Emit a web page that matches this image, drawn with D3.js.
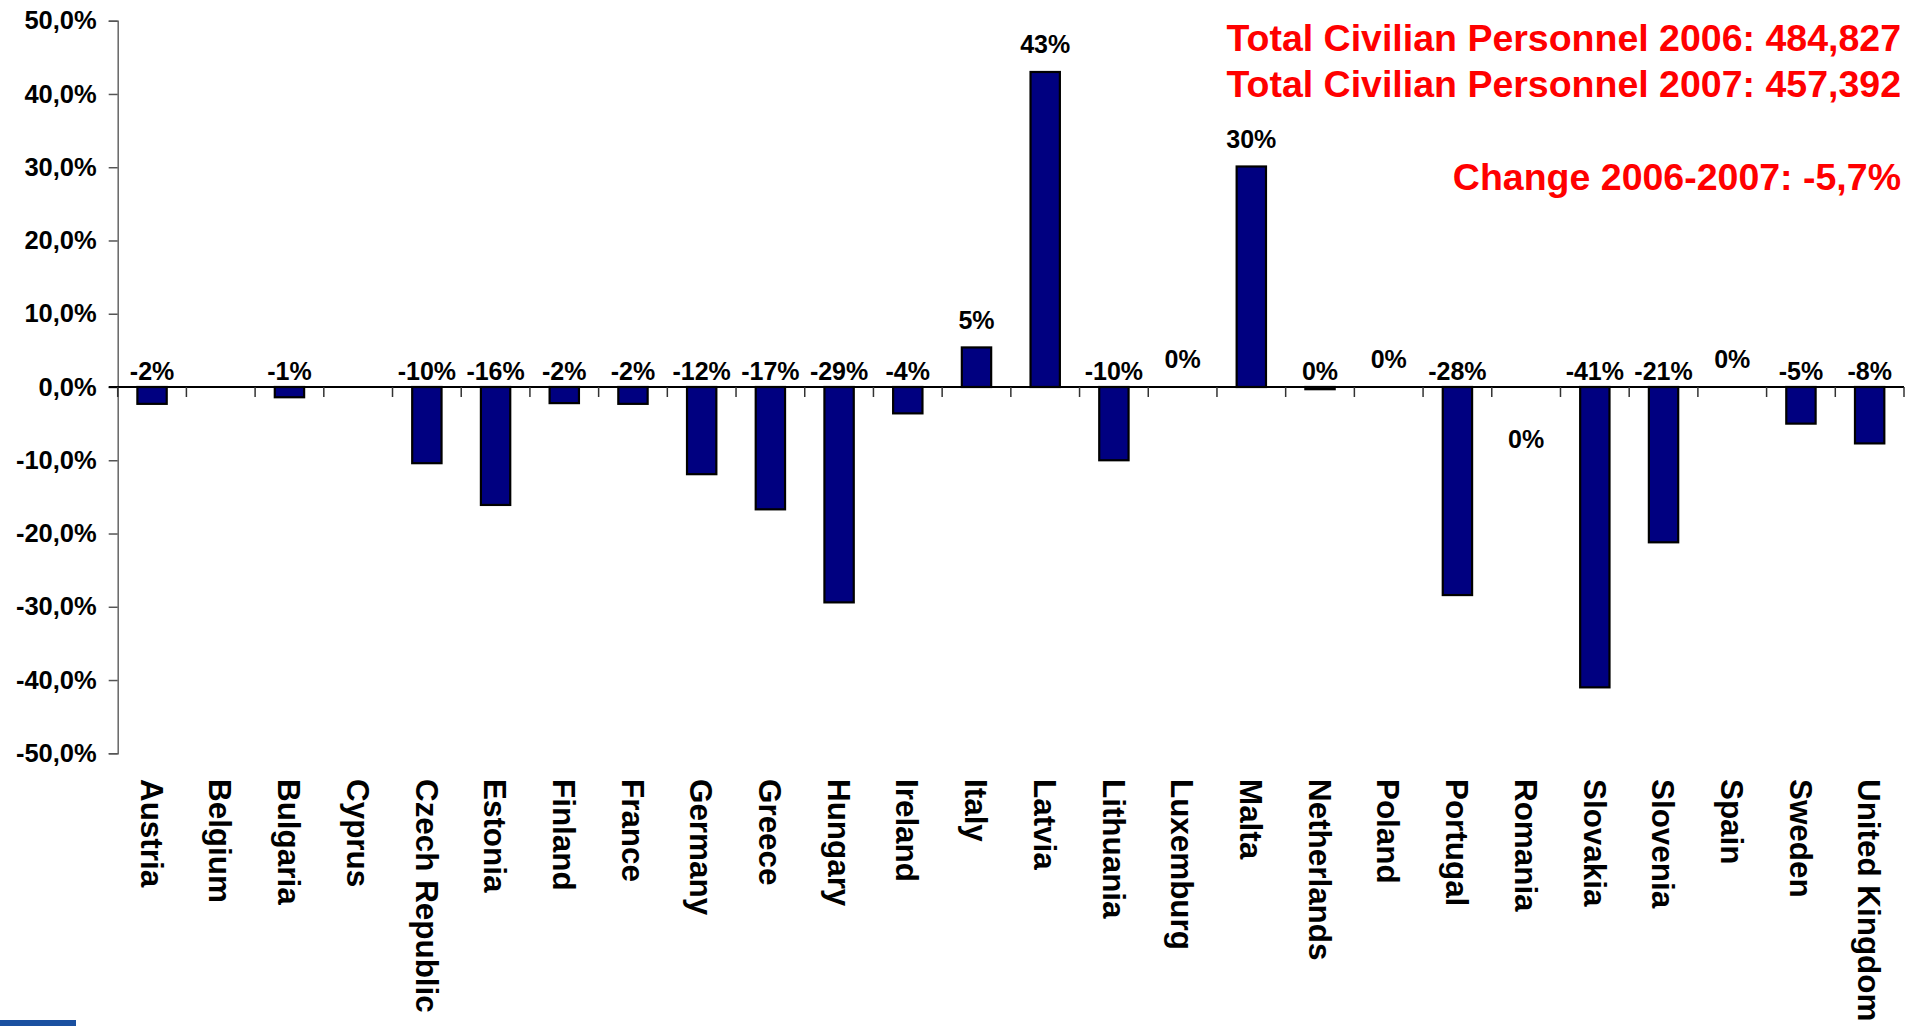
<!DOCTYPE html>
<html>
<head>
<meta charset="utf-8">
<script src="https://cdn.jsdelivr.net/npm/d3@7"></script>
<style>
  html, body { margin: 0; padding: 0; background: #fff; }
  svg { display: block; }
  text { font-family: "Liberation Sans", Arial, sans-serif; font-weight: bold; }
</style>
</head>
<body>
<svg id="chart" width="1921" height="1026"></svg>
<script>
// ---- data ----
const categories = ["Austria", "Belgium", "Bulgaria", "Cyprus", "Czech Republic", "Estonia", "Finland",
  "France", "Germany", "Greece", "Hungary", "Ireland", "Italy", "Latvia", "Lithuania", "Luxemburg",
  "Malta", "Netherlands", "Poland", "Portugal", "Romania", "Slovakia", "Slovenia", "Spain", "Sweden",
  "United Kingdom"];
// change 2006-2007 in %, null = no data
const changePct = [-2.3, null, -1.4, null, -10.4, -16.1, -2.2, -2.3, -11.9, -16.7, -29.4, -3.6, 5.4,
  43.0, -10.0, 0, 30.1, -0.3, 0, -28.4, 0, -41.0, -21.2, 0, -5.0, -7.7];
const yTicks = [-50, -40, -30, -20, -10, 0, 10, 20, 30, 40, 50];
const infoLines = ["Total Civilian Personnel 2006: 484,827",
                   "Total Civilian Personnel 2007: 457,392",
                   "Change 2006-2007: -5,7%"];

// ---- drawing ----
const svg = d3.select("#chart");
const plot = { left: 117.7, right: 1904, top: 20.7, bottom: 753.3 };

const x = d3.scaleBand().domain(categories).range([plot.left, plot.right]).padding(0);
const y = d3.scaleLinear().domain([-50, 50]).range([plot.bottom, plot.top]);
const barW = x.bandwidth() * 0.427;

// y axis
const yAxis = d3.axisLeft(y)
  .tickValues(yTicks)
  .tickSize(9)
  .tickPadding(12)
  .tickFormat(d => d.toFixed(1).replace(".", ",") + "%");
const gy = svg.append("g").attr("transform", `translate(${plot.left},0)`).call(yAxis);
gy.select(".domain").attr("stroke", "#666").attr("stroke-width", 1.5);
gy.selectAll(".tick line").attr("stroke", "#555").attr("stroke-width", 1.5);
gy.selectAll(".tick text").attr("fill", "#000").style("font-size", "25.5px")
  .style("font-family", '"Liberation Sans", Arial, sans-serif').style("font-weight", "bold");

// bars
const data = categories.map((c, i) => ({ c, v: changePct[i] }));
svg.append("g").selectAll("rect")
  .data(data.filter(d => d.v !== null && d.v !== 0))
  .join("rect")
  .attr("x", d => x(d.c) + (x.bandwidth() - barW) / 2)
  .attr("width", barW)
  .attr("y", d => Math.min(y(d.v), y(0)))
  .attr("height", d => Math.max(Math.abs(y(d.v) - y(0)), 1.5))
  .attr("fill", "#000080")
  .attr("stroke", "#000")
  .attr("stroke-width", 2.2);

// x axis line and boundary ticks
const y0 = y(0);
const gx = svg.append("g");
gx.append("line").attr("x1", plot.left - 9).attr("x2", plot.right)
  .attr("y1", y0).attr("y2", y0).attr("stroke", "#000").attr("stroke-width", 1.8);
const bounds = categories.map(c => x(c)).concat([x.range()[1]]);
gx.selectAll("line.tk").data(bounds).join("line").attr("class", "tk")
  .attr("x1", d => d).attr("x2", d => d)
  .attr("y1", y0).attr("y2", y0 + 10)
  .attr("stroke", "#333").attr("stroke-width", 1.5);

// category labels (rotated)
svg.append("g").selectAll("text")
  .data(categories)
  .join("text")
  .attr("transform", d => `translate(${x(d) + x.bandwidth() / 2},779) rotate(90)`)
  .attr("dy", "0.36em")
  .attr("text-anchor", "start")
  .style("font-size", "31.4px")
  .attr("fill", "#000")
  .text(d => d);

// data labels
const labelBelow = new Set(["Romania"]);
const fmt = v => { const r = Math.round(v); return (r === 0 ? "0" : String(r)) + "%"; };
svg.append("g").selectAll("text")
  .data(data.filter(d => d.v !== null))
  .join("text")
  .attr("x", d => x(d.c) + x.bandwidth() / 2)
  .attr("y", d => {
    if (labelBelow.has(d.c)) return y0 + 61;
    if (d.v >= 0) return y(d.v) - 18.7;
    return y0 - 7.5;
  })
  .attr("text-anchor", "middle")
  .style("font-size", "25px")
  .attr("fill", "#000")
  .text(d => fmt(d.v));

// info text (red)
const infoY = [50.7, 97.3, 190];
svg.append("g").selectAll("text")
  .data(infoLines)
  .join("text")
  .attr("x", 1901)
  .attr("y", (d, i) => infoY[i])
  .attr("text-anchor", "end")
  .style("font-size", "37.5px")
  .attr("fill", "#ff0000")
  .text(d => d);

// decorative strip at bottom-left
svg.append("rect").attr("x", 0).attr("y", 1020).attr("width", 76).attr("height", 6).attr("fill", "#1a50a0");
</script>
</body>
</html>
